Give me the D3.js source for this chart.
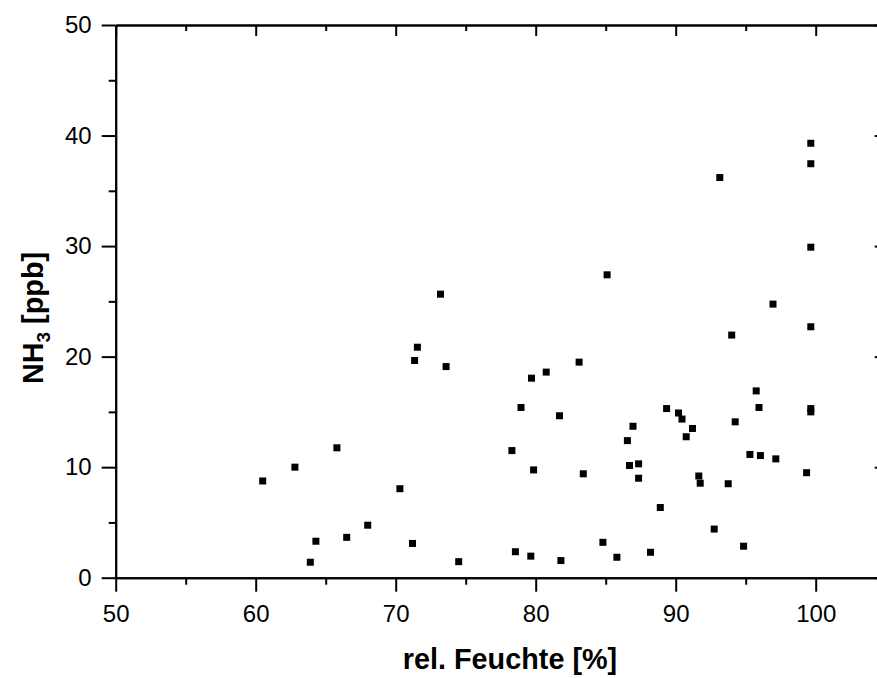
<!DOCTYPE html>
<html>
<head>
<meta charset="utf-8">
<script src="https://cdn.jsdelivr.net/npm/d3@7"></script>
<style>
  body { margin: 0; background: #fff; }
  svg text { font-family: "Liberation Sans", Arial, Helvetica, sans-serif; fill: #000; }
  .axis path, .axis line { stroke: #000; stroke-width: 2; }
</style>
</head>
<body>
<svg id="chart" width="877" height="678"></svg>
<script>
// relative humidity [%]
var humidity = [60.5, 62.8, 63.9, 64.3, 65.8, 66.5, 68.0, 70.3, 71.2, 71.35,
    71.55, 73.2, 73.6, 74.5, 78.3, 78.55, 78.95, 79.7, 79.65, 79.85,
    80.75, 81.7, 81.8, 83.1, 83.4, 84.8, 85.1, 85.8, 86.55, 86.7,
    86.95, 87.35, 87.35, 88.2, 88.9, 89.35, 90.2, 90.45, 90.75, 91.2,
    91.65, 91.75, 92.75, 93.15, 93.75, 94.0, 94.25, 94.85, 95.3, 95.75,
    95.95, 96.05, 96.95, 97.15, 99.35, 99.65, 99.65, 99.65, 99.65, 99.65,
    99.65];
// NH3 [ppb]
var nh3 = [8.75, 10.0, 1.4, 3.3, 11.75, 3.65, 4.75, 8.05, 3.1, 19.65,
    20.85, 25.65, 19.1, 1.45, 11.5, 2.35, 15.4, 18.05, 1.95, 9.75,
    18.6, 14.65, 1.55, 19.5, 9.4, 3.2, 27.4, 1.85, 12.4, 10.15,
    13.7, 10.3, 9.0, 2.3, 6.35, 15.3, 14.9, 14.35, 12.75, 13.5,
    9.2, 8.55, 4.4, 36.2, 8.5, 21.95, 14.1, 2.85, 11.15, 16.9,
    15.4, 11.05, 24.75, 10.75, 9.5, 39.3, 37.45, 29.9, 22.7, 15.3,
    15.0];

var xMajor = [50, 60, 70, 80, 90, 100];
var xMinor = [55, 65, 75, 85, 95, 105];
var yMajor = [0, 10, 20, 30, 40, 50];
var yMinor = [5, 15, 25, 35, 45];

var points = humidity.map(function(h, i) { return {x: h, y: nh3[i]}; });

var svg = d3.select('#chart');
var plotL = 115.7, plotR = 885.7, plotT = 25, plotB = 577.7;

var x = d3.scaleLinear().domain([50, 105]).range([plotL, plotR]);
var y = d3.scaleLinear().domain([0, 50]).range([plotB, plotT]);

function noLabel() { return ''; }

// minor ticks first, then major ticks with labels
svg.append('g').attr('class', 'axis')
    .attr('transform', 'translate(0,' + plotB + ')')
    .call(d3.axisBottom(x).tickValues(xMinor).tickSize(7).tickSizeOuter(0).tickFormat(noLabel));
var xAxis = svg.append('g').attr('class', 'axis')
    .attr('transform', 'translate(0,' + plotB + ')')
    .call(d3.axisBottom(x).tickValues(xMajor).tickSize(14).tickSizeOuter(0).tickPadding(13));
xAxis.selectAll('text').style('font-size', '24px');

svg.append('g').attr('class', 'axis')
    .attr('transform', 'translate(' + plotL + ',0)')
    .call(d3.axisLeft(y).tickValues(yMinor).tickSize(7).tickSizeOuter(0).tickFormat(noLabel));
var yAxis = svg.append('g').attr('class', 'axis')
    .attr('transform', 'translate(' + plotL + ',0)')
    .call(d3.axisLeft(y).tickValues(yMajor).tickSize(14).tickSizeOuter(0).tickPadding(10));
yAxis.selectAll('text').style('font-size', '24px');

// mirrored top and right axes, ticks pointing inward
svg.append('g').attr('class', 'axis')
    .attr('transform', 'translate(0,' + plotT + ')')
    .call(d3.axisBottom(x).tickValues(xMinor).tickSize(6).tickSizeOuter(0).tickFormat(noLabel));
svg.append('g').attr('class', 'axis')
    .attr('transform', 'translate(0,' + plotT + ')')
    .call(d3.axisBottom(x).tickValues(xMajor).tickSize(11).tickSizeOuter(0).tickFormat(noLabel));
svg.append('g').attr('class', 'axis')
    .attr('transform', 'translate(' + plotR + ',0)')
    .call(d3.axisLeft(y).tickValues(yMinor).tickSize(6).tickSizeOuter(0).tickFormat(noLabel));
svg.append('g').attr('class', 'axis')
    .attr('transform', 'translate(' + plotR + ',0)')
    .call(d3.axisLeft(y).tickValues(yMajor).tickSize(11).tickSizeOuter(0).tickFormat(noLabel));

// data squares
var size = 7;
svg.append('g').selectAll('rect')
    .data(points)
    .enter()
    .append('rect')
    .attr('x', function(d) { return x(d.x) - size / 2; })
    .attr('y', function(d) { return y(d.y) - size / 2; })
    .attr('width', size)
    .attr('height', size)
    .attr('fill', '#000');

// axis titles
svg.append('text')
    .attr('x', 510)
    .attr('y', 669)
    .attr('text-anchor', 'middle')
    .style('font-size', '28.8px')
    .style('font-weight', 'bold')
    .text('rel. Feuchte [%]');

var yTitle = svg.append('text')
    .attr('transform', 'translate(43,318) rotate(-90)')
    .attr('text-anchor', 'middle')
    .style('font-size', '28.8px')
    .style('font-weight', 'bold');
yTitle.append('tspan').text('NH');
yTitle.append('tspan').attr('dy', 7).style('font-size', '19px').text('3');
yTitle.append('tspan').attr('dy', -7).text(' [ppb]');
</script>
</body>
</html>
